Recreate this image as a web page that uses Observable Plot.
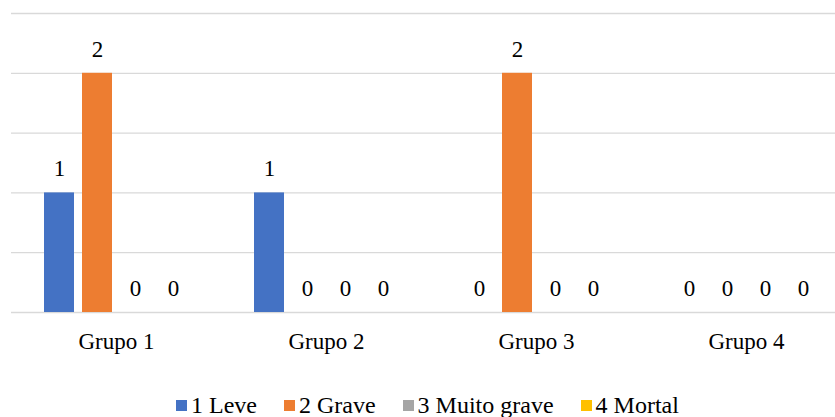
<!DOCTYPE html>
<html>
<head>
<meta charset="utf-8">
<script src="https://cdn.jsdelivr.net/npm/d3@7"></script>
<script src="https://cdn.jsdelivr.net/npm/@observablehq/plot@0.6"></script>
<style>
  html, body { margin: 0; padding: 0; background: #fff; overflow: hidden; width: 835px; height: 417px; }
  #chart svg { display: block; overflow: hidden; }
  #legend { height: 37px; display: flex; justify-content: flex-start; align-items: center; padding: 14px 0 0 176px; box-sizing: border-box; }
  .sev-swatches { justify-content: flex-start; font-family: "Liberation Serif", "Times New Roman", Times, "DejaVu Serif", serif !important; font-size: 24px !important; color: #000; margin: 0 !important; min-height: 0 !important; flex-wrap: nowrap !important; white-space: nowrap; }
  .sev-swatch { margin-right: 27px !important; }
  .sev-swatch:last-child { margin-right: 0 !important; }
  .sev-swatch > svg { margin-right: 4px !important; }
</style>
</head>
<body>
<div id="chart"></div>
<div id="legend"></div>
<script>
// Accident severity counts per group
const groups = ["Grupo 1", "Grupo 2", "Grupo 3", "Grupo 4"];
const severities = ["1 Leve", "2 Grave", "3 Muito grave", "4 Mortal"];
const colors = ["#4472C4", "#ED7D31", "#A5A5A5", "#FFC000"];
const leve = [1, 1, 0, 0];
const grave = [2, 0, 2, 0];
const muitoGrave = [0, 0, 0, 0];
const mortal = [0, 0, 0, 0];
const yTicks = [0, 0.5, 1, 1.5, 2, 2.5];

const series = [leve, grave, muitoGrave, mortal];
const rows = groups.flatMap((group, i) =>
  severities.map((severity, j) => ({group, severity, value: series[j][i]}))
);

const serif = "'Liberation Serif', 'Times New Roman', Times, 'DejaVu Serif', serif";

const chart = Plot.plot({
  width: 835,
  height: 380,
  marginTop: 13,
  marginBottom: 68,
  marginLeft: 11,
  marginRight: -16,
  style: {fontFamily: serif, fontSize: "23px", color: "#000", background: "#fff"},
  fx: {domain: groups, range: [11, 851], padding: 0, axis: "bottom", tickSize: 0, tickPadding: 20, label: null},
  x: {domain: severities, range: [44, 188], paddingInner: 8 / 38, paddingOuter: 0, axis: null},
  y: {domain: [0, 2.5], axis: null},
  color: {domain: severities, range: colors},
  marks: [
    Plot.ruleY(yTicks, {stroke: "#d9d9d9", strokeWidth: 1.3}),
    Plot.barY(rows, {fx: "group", x: "severity", y: "value", fill: "severity"}),
    Plot.text(rows, {fx: "group", x: "severity", y: "value", text: d => String(d.value), dy: -24, fontSize: 23, fontFamily: serif, fill: "#000"})
  ]
});
document.getElementById("chart").append(chart);

const legend = Plot.legend({
  color: {domain: severities, range: colors},
  legend: "swatches",
  swatchSize: 11,
  className: "sev"
});
document.getElementById("legend").append(legend);
</script>
</body>
</html>
